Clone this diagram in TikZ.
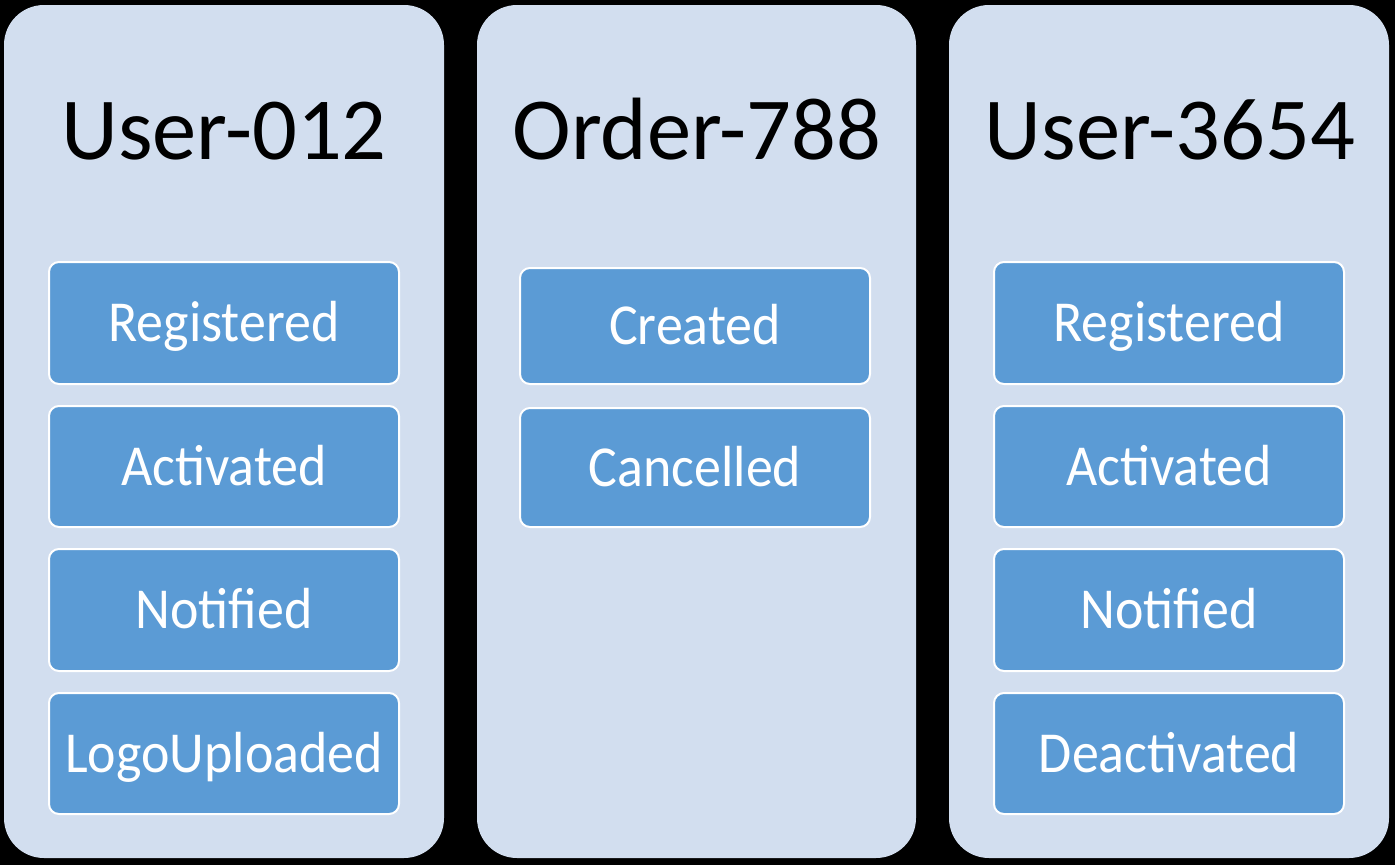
\documentclass[tikz,border=0pt]{standalone}
\usepackage{fontspec}
\setmainfont{Carlito}
\newfontfamily\boxfont[FakeStretch=0.93]{Carlito}
\definecolor{panelfill}{HTML}{D2DEEF}
\definecolor{boxfill}{HTML}{5B9BD5}
\begin{document}
\begin{tikzpicture}[x=1pt,y=-1pt,
  panel/.style={fill=panelfill, draw=none, rounded corners=40pt},
  evbox/.style={rectangle, fill=boxfill, draw=white, line width=2pt, rounded corners=10pt,
    minimum width=350pt, inner sep=0pt, text=white,
    font=\boxfont\fontsize{58}{60}\selectfont, text height=37pt, text depth=0pt},
  title/.style={anchor=base, inner sep=0pt, font=\fontsize{88.5}{100}\selectfont, text=black}]
\fill[black] (0,0) rectangle (1395,865);
\useasboundingbox (0,0) rectangle (1395,865);
% panels
\fill[panel] (4,5) rectangle (444,858);
\fill[panel] (477,5) rectangle (916,858);
\fill[panel] (949,5) rectangle (1389,858);
% titles
\node[title] (t1) at (224,159) {User-012};
\node[title] (t2) at (697,159) {Order-788};
\node[title] (t3) at (1170,159) {User-3654};
% panel 1
\node[evbox, minimum height=122pt] (a1) at (224,323) {Registered};
\node[evbox, minimum height=121pt] (a2) at (224,466.5) {Activated};
\node[evbox, minimum height=122pt] (a3) at (224,610) {Notified};
\node[evbox, minimum height=121pt] (a4) at (224,753.5) {LogoUploaded};
% panel 2
\node[evbox, minimum height=116pt] (b1) at (695,326) {Created};
\node[evbox, minimum height=119pt] (b2) at (695,467.5) {Cancelled};
% panel 3
\node[evbox, minimum height=122pt] (c1) at (1169,323) {Registered};
\node[evbox, minimum height=121pt] (c2) at (1169,466.5) {Activated};
\node[evbox, minimum height=122pt] (c3) at (1169,610) {Notified};
\node[evbox, minimum height=121pt] (c4) at (1169,753.5) {Deactivated};
\end{tikzpicture}
\end{document}
